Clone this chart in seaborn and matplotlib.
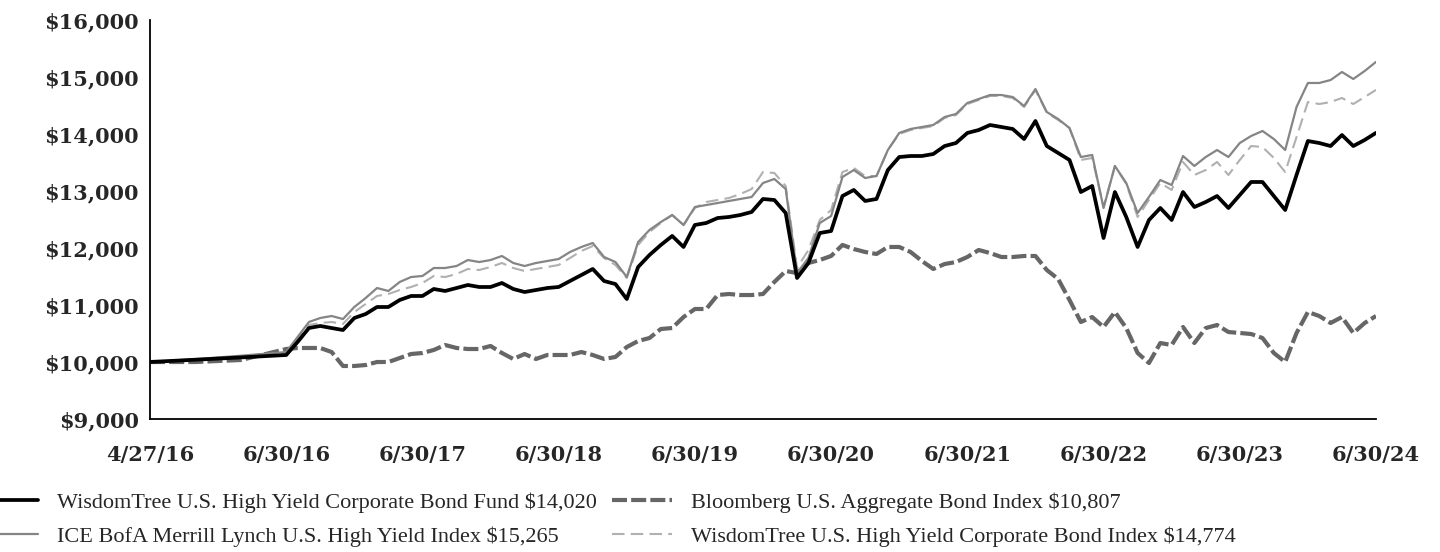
import matplotlib
matplotlib.use('Agg')
import matplotlib.pyplot as plt
import seaborn as sns

# month index: 0 = 6/30/16, the first stretch runs from the 4/27/16 inception
months = [-12, -8, -4] + list(range(0, 97))

fund = [10000, 10040, 10080,
        10123, 10351, 10596, 10632, 10596, 10561, 10772, 10842, 10965, 10965, 11088, 11158,
        11158, 11281, 11246, 11298, 11351, 11316, 11316, 11386, 11281, 11228, 11263, 11298,
        11316, 11421, 11526, 11632, 11421, 11368, 11105, 11667, 11877, 12053, 12211, 12018,
        12404, 12439, 12526, 12544, 12579, 12632, 12860, 12842, 12614, 11474, 11737, 12263,
        12298, 12912, 13018, 12825, 12860, 13368, 13596, 13614, 13614, 13649, 13789, 13842,
        14018, 14070, 14158, 14123, 14088, 13912, 14228, 13789, 13667, 13544, 12982, 13088,
        12175, 12982, 12544, 12018, 12491, 12702, 12491, 12982, 12719, 12807, 12912, 12702,
        12930, 13158, 13158, 12912, 12667, 13281, 13877, 13842, 13789, 13982, 13789, 13895,
        14020]

ice_hy = [10000, 10050, 10110,
          10175, 10439, 10702, 10772, 10807, 10754, 10965, 11123, 11298, 11246, 11404, 11491,
          11509, 11649, 11649, 11684, 11789, 11754, 11789, 11860, 11737, 11684, 11737, 11772,
          11807, 11930, 12018, 12088, 11842, 11754, 11491, 12105, 12316, 12456, 12579, 12404,
          12719, 12754, 12789, 12825, 12860, 12895, 13140, 13211, 13035, 11561, 11825, 12439,
          12561, 13246, 13368, 13228, 13263, 13719, 14018, 14088, 14123, 14158, 14298, 14351,
          14544, 14614, 14684, 14684, 14649, 14491, 14789, 14386, 14263, 14105, 13596, 13632,
          12702, 13439, 13140, 12614, 12895, 13193, 13105, 13614, 13439, 13596, 13719, 13596,
          13842, 13965, 14053, 13912, 13719, 14474, 14895, 14895, 14947, 15088, 14965, 15105,
          15265]

wt_index = [10000, 10045, 10100,
            10158, 10404, 10649, 10684, 10702, 10667, 10877, 11018, 11158, 11193, 11263, 11316,
            11386, 11509, 11491, 11544, 11632, 11614, 11667, 11737, 11649, 11596, 11632, 11667,
            11702, 11825, 11947, 12035, 11825, 11702, 11474, 12053, 12281, 12439, 12579, 12404,
            12702, 12807, 12842, 12877, 12947, 13035, 13333, 13316, 13088, 11649, 11965, 12491,
            12667, 13333, 13404, 13263, 13263, 13719, 14000, 14070, 14105, 14140, 14281, 14333,
            14526, 14596, 14667, 14667, 14632, 14474, 14772, 14368, 14246, 14105, 13544, 13579,
            12719, 13439, 13123, 12544, 12842, 13140, 13018, 13509, 13281, 13368, 13509, 13281,
            13544, 13789, 13772, 13579, 13333, 13947, 14561, 14526, 14561, 14632, 14526, 14649,
            14774]

bbg_agg = [10000, 10000, 10035,
           10228, 10246, 10246, 10246, 10175, 9930, 9930, 9947, 10000, 10000, 10070, 10140,
           10158, 10211, 10298, 10246, 10228, 10228, 10281, 10158, 10053, 10140, 10053, 10123,
           10123, 10123, 10175, 10123, 10053, 10088, 10263, 10368, 10421, 10579, 10596, 10789,
           10930, 10930, 11175, 11193, 11175, 11175, 11193, 11404, 11596, 11561, 11737, 11789,
           11860, 12053, 11982, 11930, 11895, 12018, 12018, 11930, 11772, 11632, 11719, 11754,
           11842, 11965, 11912, 11842, 11842, 11860, 11860, 11614, 11456, 11088, 10702, 10789,
           10614, 10877, 10596, 10158, 9982, 10333, 10298, 10614, 10333, 10596, 10649, 10526,
           10509, 10491, 10421, 10158, 10000, 10509, 10877, 10807, 10684, 10789, 10509, 10684,
           10807]

tick_months = [-12, 0, 12, 24, 36, 48, 60, 72, 84, 96]
tick_labels = ['4/27/16', '6/30/16', '6/30/17', '6/30/18', '6/30/19',
               '6/30/20', '6/30/21', '6/30/22', '6/30/23', '6/30/24']
y_ticks = [9000, 10000, 11000, 12000, 13000, 14000, 15000, 16000]

labels = ['WisdomTree U.S. High Yield Corporate Bond Fund $14,020',
          'ICE BofA Merrill Lynch U.S. High Yield Index $15,265',
          'Bloomberg U.S. Aggregate Bond Index $10,807',
          'WisdomTree U.S. High Yield Corporate Bond Index $14,774']

sns.set_style('white')
plt.rcParams['font.family'] = ['DejaVu Serif']

fig = plt.figure(figsize=(14.4, 5.52), dpi=100)
ax = fig.add_axes([150 / 1440, 1 - 419 / 552, 1226 / 1440, 399 / 552])

sns.lineplot(x=months, y=bbg_agg, ax=ax, color='#666666', linewidth=3.0,
             dashes=(3.6, 1.0), label=labels[2], errorbar=None)
sns.lineplot(x=months, y=wt_index, ax=ax, color='#b0b0b0', linewidth=1.5,
             dashes=(6, 3), label=labels[3], errorbar=None)
sns.lineplot(x=months, y=ice_hy, ax=ax, color='#858585', linewidth=1.6,
             label=labels[1], errorbar=None)
sns.lineplot(x=months, y=fund, ax=ax, color='black', linewidth=2.7,
             label=labels[0], errorbar=None)

ax.set_xlim(-12, 96)
ax.set_ylim(9000, 16000)
ax.set_xticks(tick_months)
ax.set_xticklabels(tick_labels)
ax.set_yticks(y_ticks)
ax.set_yticklabels([f'${v:,}' for v in y_ticks])
ax.tick_params(axis='both', length=0, labelsize=15)
ax.tick_params(axis='x', pad=19)
ax.tick_params(axis='y', pad=8)
for lab in ax.get_xticklabels() + ax.get_yticklabels():
    lab.set_fontweight('bold')
ax.set_xlabel('')
ax.set_ylabel('')
sns.despine(ax=ax)
for side in ['left', 'bottom']:
    ax.spines[side].set_color('black')
    ax.spines[side].set_linewidth(1.3)

lines = {ln.get_label(): ln for ln in ax.get_lines()}
ax.get_legend().remove()

leg_kw = dict(loc='center left', frameon=False, borderpad=0, borderaxespad=0,
              handlelength=2.7, handletextpad=0.85, labelspacing=0.62,
              prop={'family': 'Liberation Serif', 'size': 16})
leg1 = fig.legend([lines[labels[0]], lines[labels[1]]], labels[:2],
                  bbox_to_anchor=(-22 / 1440, 0.059), **leg_kw)
leg2 = fig.legend([lines[labels[2]], lines[labels[3]]], labels[2:],
                  bbox_to_anchor=(612 / 1440, 0.059), **leg_kw)

fig.savefig('out.png', dpi=100)
